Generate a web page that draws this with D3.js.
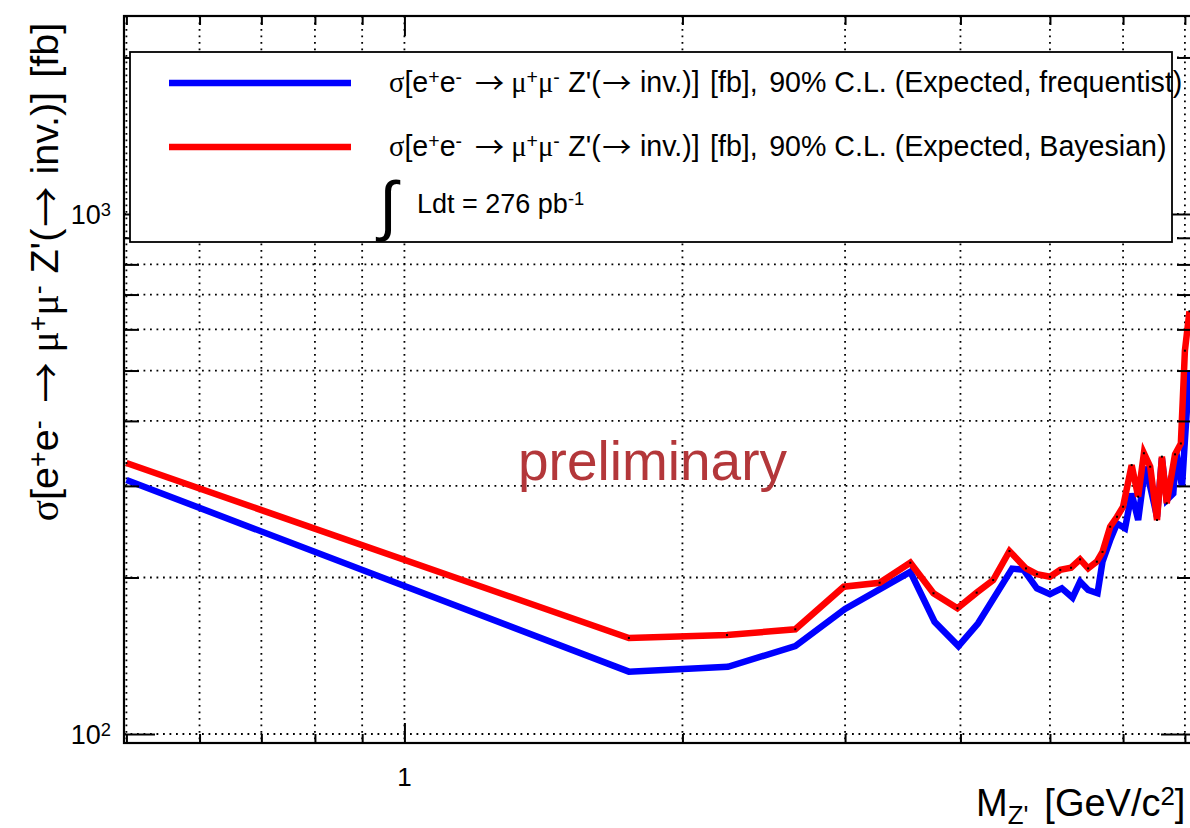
<!DOCTYPE html>
<html>
<head>
<meta charset="utf-8">
<script src="https://cdn.jsdelivr.net/npm/d3@7"></script>
<style>
  html, body { margin: 0; padding: 0; background: #fff; }
  text { font-family: "Liberation Sans", Arial, Helvetica, sans-serif; white-space: pre; }
</style>
</head>
<body>
<div id="vis"></div>
<script>
// values (mass in GeV/c^2, cross section in fb)
const massBlue = [0.5, 1.75, 2.24, 2.65, 3.0, 3.53, 3.75, 3.98, 4.18, 4.55, 4.68, 4.84, 5.0, 5.15, 5.29, 5.39, 5.50, 5.63, 5.70, 5.81, 5.91, 6.03, 6.13, 6.23, 6.34, 6.42, 6.53, 6.61, 6.69, 6.80, 6.85, 6.95, 7.0, 7.08]
const xsecBlue = [308, 131.8, 134.7, 147.6, 174, 205, 164.4, 147.6, 163.3, 208, 207, 190.6, 185.8, 190.6, 182.9, 196.3, 189.2, 186.5, 214.5, 236, 254, 248.6, 290, 258, 326.6, 299, 261.7, 339, 281.8, 290, 349, 299, 367, 501]

const massRed = [0.5, 1.75, 2.235, 2.65, 2.99, 3.27, 3.53, 3.74, 3.97, 4.165, 4.34, 4.52, 4.71, 4.84, 5.0, 5.13, 5.27, 5.39, 5.50, 5.62, 5.70, 5.81, 5.91, 6.0, 6.13, 6.23, 6.32, 6.42, 6.53, 6.61, 6.69, 6.83, 6.93, 7.0, 7.08]
const xsecRed = [332, 153, 155, 159, 192, 195.4, 213.5, 186.5, 174.5, 187, 197.7, 224.8, 208.2, 203, 200.6, 206.8, 208.8, 216.7, 208.2, 214.5, 224, 250.4, 261.7, 273.6, 329, 286, 346.7, 326.6, 258, 341.5, 277.8, 345, 362, 546, 650]

// ticks
const xMinorTicks = [0.5, 0.6, 0.7, 0.8, 0.9, 2, 3, 4, 5, 6, 7]
const xMajorTicks = [1]
const xTickLabels = ["1"]
const yMinorTicks = [200, 300, 400, 500, 600, 700, 800, 900, 2000]
const yMajorTicks = [100, 1000]
const yTickExps = ["2", "3"]

const legendLabels = [
  "90% C.L. (Expected, frequentist)",
  "90% C.L. (Expected, Bayesian)"
]
const lumiLabel = "Ldt = 276 pb"

const W = 1190, H = 828
const frame = {left: 124, right: 1192, top: 16, bottom: 743}

const x = d3.scaleLog().domain([0.497, 7.125]).range([frame.left, frame.right])
const y = d3.scaleLog().domain([96.1, 2403]).range([frame.bottom, frame.top])

const svg = d3.select("#vis").append("svg")
  .attr("width", W).attr("height", H)

svg.append("rect").attr("width", W).attr("height", H).attr("fill", "#fff")

svg.append("clipPath").attr("id", "plotclip")
  .append("rect")
  .attr("x", frame.left).attr("y", frame.top)
  .attr("width", frame.right - frame.left).attr("height", frame.bottom - frame.top)

const serif = "'Liberation Serif', 'DejaVu Serif', serif"
const arrowFont = "'Noto Sans CJK JP', 'DejaVu Sans', sans-serif"

// write a ROOT-ish latex string as tspans (dx in em)
function rich(textSel, parts, size) {
  parts.forEach(p => {
    const ts = textSel.append("tspan").text(p.t)
    if (p.serif) ts.attr("font-family", serif)
    if (p.arrow) ts.attr("font-family", arrowFont).attr("font-size", size * 1.02)
      .attr("baseline-shift", `${-0.07 * size}px`)
    if (p.sup) ts.attr("font-size", size * 0.68).attr("baseline-shift", "42%")
    if (p.sub) ts.attr("font-size", size * 0.68).attr("baseline-shift", "-30%")
    if (p.dx) ts.attr("dx", p.dx * size)
  })
  return textSel
}

function sigmaParts(tail) {
  const parts = [
    {t: "σ", serif: true}, {t: "[e"}, {t: "+", sup: true}, {t: "e"}, {t: "-", sup: true},
    {t: "→", arrow: true, dx: 0.45}, {t: "μ", serif: true, dx: 0.25},
    {t: "+", sup: true}, {t: "μ", serif: true}, {t: "-", sup: true},
    {t: "Z'(", dx: 0.3}, {t: "→", arrow: true, dx: 0.05}, {t: "inv.)]", dx: 0.3},
    {t: "[fb]", dx: 0.36}
  ]
  if (tail) parts.push({t: ","}, {t: tail, dx: 0.12})
  return parts
}

// grid
const grid = svg.append("g").attr("class", "grid")
grid.selectAll("line.gx")
  .data(xMinorTicks.concat(xMajorTicks))
  .join("line")
  .attr("x1", d => x(d)).attr("x2", d => x(d))
  .attr("y1", frame.top).attr("y2", frame.bottom)
grid.selectAll("line.gy")
  .data(yMinorTicks.concat(yMajorTicks))
  .join("line")
  .attr("class", "gy")
  .attr("y1", d => y(d)).attr("y2", d => y(d))
  .attr("x1", frame.left).attr("x2", frame.right)
grid.selectAll("line")
  .attr("stroke", "#000").attr("stroke-width", 1.8)
  .attr("stroke-dasharray", "1.8 4.7")

// preliminary stamp
svg.append("text")
  .attr("x", 518).attr("y", 480)
  .attr("font-family", "Lato, 'Open Sans', sans-serif")
  .attr("font-size", 55)
  .attr("fill", "#b3373a")
  .text("preliminary")

// curves
const line = d3.line().x(d => x(d[0])).y(d => y(d[1]))
const plot = svg.append("g").attr("clip-path", "url(#plotclip)")

plot.append("path")
  .datum(d3.zip(massBlue, xsecBlue))
  .attr("d", line)
  .attr("fill", "none").attr("stroke", "#0000ff")
  .attr("stroke-width", 6.5).attr("stroke-linejoin", "miter")

plot.append("path")
  .datum(d3.zip(massRed, xsecRed))
  .attr("d", line)
  .attr("fill", "none").attr("stroke", "#ff0000")
  .attr("stroke-width", 6.5).attr("stroke-linejoin", "miter")

plot.selectAll("rect.mk")
  .data(d3.zip(massRed, xsecRed))
  .join("rect")
  .attr("x", d => x(d[0]) - 1).attr("y", d => y(d[1]) - 1)
  .attr("width", 2).attr("height", 2).attr("fill", "#000")

// axes: inward ticks on all four sides
function ticks(axisFn, pos, values, size) {
  const g = svg.append("g")
    .attr("transform", pos)
    .call(axisFn.tickValues(values).tickSize(size).tickFormat(""))
  g.select(".domain").remove()
  g.selectAll("line").attr("stroke", "#000").attr("stroke-width", 2)
  return g
}
ticks(d3.axisBottom(x), `translate(0,${frame.bottom})`, xMinorTicks, -9)
ticks(d3.axisBottom(x), `translate(0,${frame.bottom})`, xMajorTicks, -20)
ticks(d3.axisTop(x), `translate(0,${frame.top})`, xMinorTicks, -9)
ticks(d3.axisTop(x), `translate(0,${frame.top})`, xMajorTicks, -20)
ticks(d3.axisLeft(y), `translate(${frame.left},0)`, yMinorTicks, -15)
ticks(d3.axisLeft(y), `translate(${frame.left},0)`, yMajorTicks, -31)
ticks(d3.axisRight(y), `translate(${frame.right},0)`, yMinorTicks, -15)
ticks(d3.axisRight(y), `translate(${frame.right},0)`, yMajorTicks, -31)

svg.append("rect")
  .attr("x", frame.left).attr("y", frame.top)
  .attr("width", frame.right - frame.left).attr("height", frame.bottom - frame.top)
  .attr("fill", "none").attr("stroke", "#000").attr("stroke-width", 2.2)

// tick labels
svg.selectAll("text.xl")
  .data(xMajorTicks)
  .join("text")
  .attr("x", d => x(d)).attr("y", 786)
  .attr("text-anchor", "middle").attr("font-size", 26)
  .text((d, i) => xTickLabels[i])

yMajorTicks.forEach((v, i) => {
  const t = svg.append("text")
    .attr("x", 111).attr("y", y(v) + 10)
    .attr("text-anchor", "end").attr("font-size", 27)
  rich(t, [{t: "10"}, {t: yTickExps[i], sup: true}], 27)
})

// axis titles
const ytitle = svg.append("text")
  .attr("transform", "translate(58,272) rotate(-90)")
  .attr("text-anchor", "middle").attr("font-size", 39.5)
rich(ytitle, sigmaParts(""), 39.5)

const xtitle = svg.append("text")
  .attr("x", 976).attr("y", 816)
  .attr("font-size", 38)
rich(xtitle, [
  {t: "M"}, {t: "Z'", sub: true}, {t: "[GeV/c", dx: 0.42}, {t: "2", sup: true}, {t: "]"}
], 38)

// legend
const leg = svg.append("g")
leg.append("rect")
  .attr("x", 130).attr("y", 52).attr("width", 1042).attr("height", 190)
  .attr("fill", "#fff").attr("stroke", "#000").attr("stroke-width", 1.8)

const legColors = ["#0000ff", "#ff0000"]
const legY = [83, 147]
legendLabels.forEach((lab, i) => {
  leg.append("line")
    .attr("x1", 169).attr("x2", 351).attr("y1", legY[i]).attr("y2", legY[i])
    .attr("stroke", legColors[i]).attr("stroke-width", 6.5)
  const t = leg.append("text")
    .attr("x", 389).attr("y", legY[i] + 9).attr("font-size", 28.6)
  rich(t, sigmaParts(" " + lab), 28.6)
})

leg.append("text")
  .attr("x", 379).attr("y", 228)
  .attr("font-family", serif).attr("font-size", 66)
  .text("∫")
const lumi = leg.append("text")
  .attr("x", 417).attr("y", 213).attr("font-size", 27)
rich(lumi, [{t: lumiLabel}, {t: "-1", sup: true}], 27)
</script>
</body>
</html>
